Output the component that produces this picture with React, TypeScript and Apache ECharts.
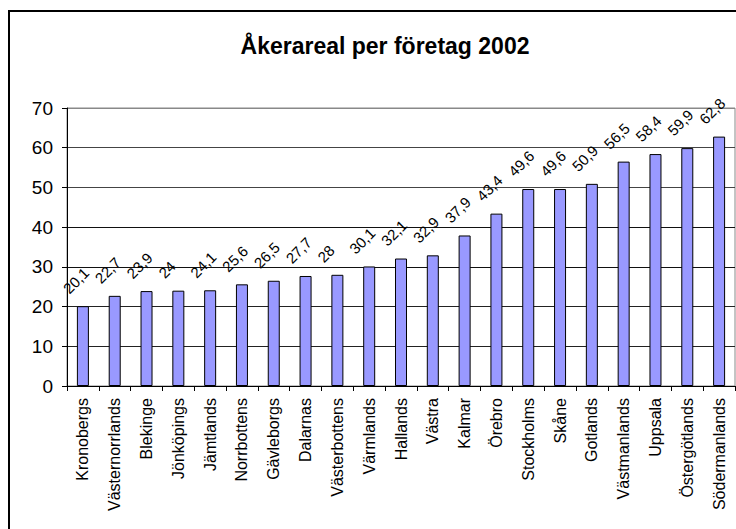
import React, { useEffect, useRef } from "react";
import * as echarts from "echarts";

const titleText = "Åkerareal per företag 2002";
const categories = [
  "Kronobergs", "Västernorrlands", "Blekinge", "Jönköpings", "Jämtlands",
  "Norrbottens", "Gävleborgs", "Dalarnas", "Västerbottens", "Värmlands",
  "Hallands", "Västra", "Kalmar", "Örebro", "Stockholms", "Skåne",
  "Gotlands", "Västmanlands", "Uppsala", "Östergötlands", "Södermanlands",
];
const values = [
  20.1, 22.7, 23.9, 24, 24.1, 25.6, 26.5, 27.7, 28, 30.1, 32.1, 32.9,
  37.9, 43.4, 49.6, 49.6, 50.9, 56.5, 58.4, 59.9, 62.8,
];
const yMin = 0;
const yMax = 70;
const yStep = 10;

export default function App() {
  const ref = useRef<HTMLDivElement>(null);
  useEffect(() => {
    if (!ref.current) return;
    const chart = echarts.init(ref.current, null, { renderer: "svg" });
    const font = "Arial, 'Liberation Sans', sans-serif";
    chart.setOption({
      animation: false,
      backgroundColor: "#ffffff",
      title: {
        text: titleText,
        left: 380,
        top: 29,
        textAlign: "center",
        textStyle: { fontFamily: font, fontSize: 23, fontWeight: "bold", color: "#000" },
      },
      graphic: [
        {
          type: "rect",
          shape: { x: 9, y: 11, width: 800, height: 600 },
          style: { fill: "none", stroke: "#000", lineWidth: 2 },
          silent: true,
        },
      ],
      grid: { left: 67, right: 1, top: 108, bottom: 143, containLabel: false, show: true, borderColor: "#888", borderWidth: 1, backgroundColor: "transparent" },
      xAxis: {
        type: "category",
        data: categories,
        axisLine: { lineStyle: { color: "#000", width: 1 } },
        axisTick: { show: true, alignWithLabel: false, length: 5, lineStyle: { color: "#000" } },
        axisLabel: {
          rotate: 90,
          interval: 0,
          margin: 12,
          fontFamily: font,
          fontSize: 16,
          color: "#000",
        },
      },
      yAxis: {
        type: "value",
        min: yMin,
        max: yMax,
        interval: yStep,
        axisLine: { show: true, lineStyle: { color: "#000", width: 1 } },
        axisTick: { show: true, length: 5, lineStyle: { color: "#000" } },
        axisLabel: { margin: 14, fontFamily: font, fontSize: 19, color: "#000" },
        splitLine: {
          show: true,
          lineStyle: { color: ["#000", "#222", "#222", "#111", "#111", "#444", "#444", "#888"], width: 1 },
        },
      },
      series: [
        {
          type: "bar",
          data: values,
          barWidth: 12,
          itemStyle: { color: "#9999FF", borderColor: "#000", borderWidth: 1 },
        },
        {
          type: "custom",
          data: values.map((v, i) => [i, v]),
          silent: true,
          z: 5,
          renderItem: (params: any, api: any) => {
            const i = api.value(0);
            const v = api.value(1);
            const p = api.coord([i, v]);
            return {
              type: "text",
              x: p[0] - 12,
              y: p[1] - 10,
              rotation: Math.PI / 4,
              style: {
                text: String(v).replace(".", ","),
                fontFamily: font,
                fontSize: 15,
                fill: "#000",
                align: "left",
                verticalAlign: "bottom",
              },
            };
          },
        },
      ],
    });
    return () => chart.dispose();
  }, []);
  return (
    <div
      ref={ref}
      style={{ position: "fixed", left: 0, top: 0, width: 736, height: 529 }}
    />
  );
}
